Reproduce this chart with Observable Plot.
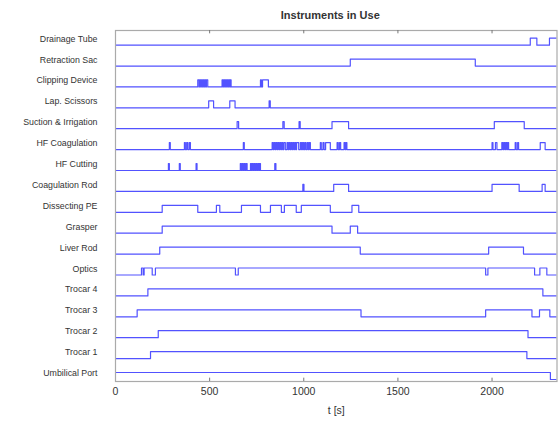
<!DOCTYPE html>
<html><head><meta charset="utf-8">
<script src="https://cdn.jsdelivr.net/npm/d3@7"></script>
<script src="https://cdn.jsdelivr.net/npm/@observablehq/plot@0.6"></script>
<style>body{margin:0;background:#fff}</style>
</head><body><div id="chart"></div>
<script>
const title = "Instruments in Use";
const xLabel = "t [s]";
const xTicks = [0, 500, 1000, 1500, 2000];
const instruments = ["Drainage Tube","Retraction Sac","Clipping Device","Lap. Scissors","Suction & Irrigation","HF Coagulation","HF Cutting","Coagulation Rod","Dissecting PE","Grasper","Liver Rod","Optics","Trocar 4","Trocar 3","Trocar 2","Trocar 1","Umbilical Port"];

// intervals [start, end] (s) during which each instrument is in use
const drainageTube = [[2203,2238],[2305,2400]];
const retractionSac = [[1247,1911]];
const clippingDevice = [[437,444],[447,453],[456,462],[465,471],[474,480],[483,490],[566,572],[575,581],[584,590],[593,599],[602,608],[610,614],[770,775],[781,812]];
const lapScissors = [[495,521],[607,635],[816,822]];
const suctionIrrigation = [[646,654],[889,896],[975,981],[1150,1238],[2012,2171]];
const hfCoagulation = [[286,291],[366,371],[378,384],[392,398],[679,684],[832,838],[842,848],[852,858],[862,868],[872,878],[882,888],[894,902],[911,917],[921,927],[931,937],[941,947],[951,957],[962,973],[982,988],[993,999],[1005,1011],[1018,1024],[1029,1035],[1088,1093],[1102,1108],[1116,1141],[1177,1183],[1190,1196],[1214,1220],[1224,1229],[2000,2005],[2018,2026],[2052,2058],[2062,2068],[2072,2078],[2082,2088],[2123,2128],[2136,2141],[2256,2282]];
const hfCutting = [[281,286],[339,344],[428,433],[663,669],[673,679],[683,689],[693,699],[717,723],[727,733],[737,743],[747,753],[757,763],[765,770],[846,852]];
const coagulationRod = [[995,1001],[1159,1238],[2000,2144],[2266,2282]];
const dissectingPE = [[248,437],[536,554],[669,770],[823,881],[897,960],[987,1141],[1256,1292]];
const grasper = [[248,1150],[1247,1286]];
const liverRod = [[235,1300],[1982,2167]];
const optics = [[138,147],[152,195],[212,637],[652,1966],[1978,2226],[2254,2291]];
const trocar4 = [[172,2270]];
const trocar3 = [[115,1304],[1966,2212],[2252,2307]];
const trocar2 = [[227,2191]];
const trocar1 = [[186,2185]];
const umbilicalPort = [[0,2310]];

const usage = [drainageTube, retractionSac, clippingDevice, lapScissors, suctionIrrigation, hfCoagulation, hfCutting, coagulationRod, dissectingPE, grasper, liverRod, optics, trocar4, trocar3, trocar2, trocar1, umbilicalPort];

const xMax = 2345;
const amp = 0.335;
const n = instruments.length;
const data = [];
usage.forEach((iv, i) => {
  const k = n - 1 - i;
  const name = instruments[i];
  if (!(iv.length && iv[0][0] <= 0)) data.push({name, t: 0, y: k});
  iv.forEach(([a, b]) => {
    data.push({name, t: Math.max(0, a), y: k + amp});
    data.push({name, t: b, y: k});
  });
  data.push({name, t: 2400, y: k});
});

const yMin = -0.096, yMax = 16.70;
const labelPos = instruments.map((d, i) => n - 1 - i + 0.3);

const chart = Plot.plot({
  width: 558, height: 422,
  marginLeft: 115, marginRight: 1.5, marginTop: 30, marginBottom: 41,
  style: {fontFamily: "'Liberation Sans', Arial, sans-serif", background: "#fff", color: "#333"},
  x: {domain: [0, xMax]},
  y: {domain: [yMin, yMax]},
  marks: [
    Plot.line(data, {x: "t", y: "y", z: "name", curve: "step-after", stroke: "#5252ff", strokeWidth: 1.2, clip: true}),
    Plot.frame({stroke: "#aaa", strokeWidth: 1.2}),
    Plot.ruleX(xTicks.slice(1), {y1: yMin, y2: yMin + 0.16, stroke: "#777"}),
    Plot.ruleX(xTicks.slice(1), {y1: yMax, y2: yMax - 0.16, stroke: "#777"}),
    Plot.axisX({ticks: xTicks, tickFormat: d => String(d), tickSize: 0, tickPadding: 6, fontSize: 10.5, label: null}),
    Plot.axisY({ticks: labelPos, tickFormat: v => instruments[n - 1 - Math.round(v - 0.3)], tickSize: 0, tickPadding: 18, fontSize: 8.8, label: null}),
    Plot.text([xLabel], {text: d => d, frameAnchor: "bottom", dy: 32, fontSize: 10.5}),
    Plot.text([title], {text: d => d, frameAnchor: "top", dy: -19, dx: -6, fontWeight: "bold", fontSize: 11})
  ]
});
document.getElementById("chart").append(chart);
</script>
</body></html>
